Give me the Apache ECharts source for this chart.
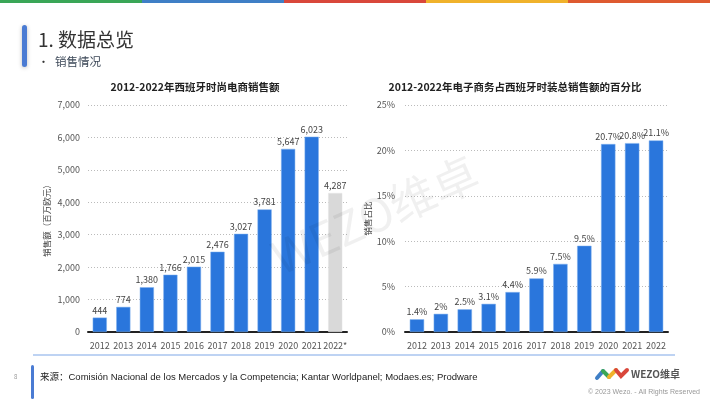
<!DOCTYPE html>
<html>
<head>
<meta charset="utf-8">
<script src="https://cdn.jsdelivr.net/npm/echarts@6/dist/echarts.min.js"></script>
<style>
html, body { margin: 0; padding: 0; background: #fff; }
#main { width: 710px; height: 399px; }
</style>
</head>
<body>
<div id="main"></div>
<script>
// 西班牙时尚电商销售额 + 电商占比
var years1 = ['2012', '2013', '2014', '2015', '2016', '2017', '2018', '2019', '2020', '2021', '2022*'];
var sales = [444, 774, 1380, 1766, 2015, 2476, 3027, 3781, 5647, 6023, 4287];
var years2 = ['2012', '2013', '2014', '2015', '2016', '2017', '2018', '2019', '2020', '2021', '2022'];
var share = [1.4, 2, 2.5, 3.1, 4.4, 5.9, 7.5, 9.5, 20.7, 20.8, 21.1];

var FONT = '"Noto Sans CJK SC", "Noto Sans", sans-serif';
var BLUE = '#2a76dc';

var myChart = echarts.init(document.getElementById('main'));

function fmt(v) {
    return String(v).replace(/\B(?=(\d{3})+(?!\d))/g, ',');
}

var salesData = sales.map(function (v, i) {
    if (i == sales.length - 1) {
        return { value: v, itemStyle: { color: '#d9d9d9', borderColor: '#e6e6e6' } };
    }
    return v;
});

var axisLabel = { color: '#555', fontSize: 9, fontFamily: FONT };
var barLabel = { show: true, position: 'top', distance: 3, color: '#444', fontSize: 9, fontFamily: FONT };

var stripColors = ['#3aa657', '#3f7fc6', '#d9473b', '#f0b22b', '#de5a30'];
var graphics = stripColors.map(function (c, i) {
    return { type: 'rect', shape: { x: i * 142, y: 0, width: 142, height: 3 }, style: { fill: c } };
});

graphics = graphics.concat([
    // header
    { type: 'rect', shape: { x: 22, y: 25, width: 5, height: 42, r: 2.5 },
      style: { fill: '#4a7bd3', shadowBlur: 4, shadowColor: 'rgba(0,0,0,0.25)', shadowOffsetY: 1 } },
    { type: 'text', x: 38, y: 40, style: { text: '1. 数据总览', fill: '#333', fontSize: 19, fontFamily: FONT, verticalAlign: 'middle' } },
    { type: 'text', x: 38, y: 62, style: { text: '•', fill: '#333', fontSize: 11, fontFamily: FONT, verticalAlign: 'middle' } },
    { type: 'text', x: 55, y: 62, style: { text: '销售情况', fill: '#3a4656', fontSize: 11.5, fontFamily: FONT, verticalAlign: 'middle' } },
    // chart titles
    { type: 'text', x: 195, y: 87, style: { text: '2012-2022年西班牙时尚电商销售额', fill: '#222', fontSize: 10.5, fontWeight: 'bold', fontFamily: FONT, align: 'center', verticalAlign: 'middle' } },
    { type: 'text', x: 515, y: 87, style: { text: '2012-2022年电子商务占西班牙时装总销售额的百分比', fill: '#222', fontSize: 10.5, fontWeight: 'bold', fontFamily: FONT, align: 'center', verticalAlign: 'middle' } },
    // watermark
    { type: 'text', x: 375, y: 215, rotation: Math.PI / 7.5, z: 100,
      style: { text: 'WEZO维卓', fill: 'rgba(0,0,0,0.06)', fontSize: 46, fontFamily: FONT, align: 'center', verticalAlign: 'middle' } },
    // footer
    { type: 'line', shape: { x1: 33, y1: 355, x2: 675, y2: 355 }, style: { stroke: '#a9c4ef', lineWidth: 1.5 } },
    { type: 'rect', shape: { x: 31, y: 365, width: 3, height: 34, r: 1.5 }, style: { fill: '#4a7bd3' } },
    { type: 'text', x: 14, y: 377, style: { text: '8', fill: '#999', fontSize: 6, fontFamily: FONT, verticalAlign: 'middle' } },
    { type: 'text', x: 40, y: 377, style: { text: '来源：Comisión Nacional de los Mercados y la Competencia; Kantar Worldpanel; Modaes.es; Prodware', fill: '#222', fontSize: 9.5, fontFamily: '"Liberation Sans", "Noto Sans CJK SC", sans-serif', verticalAlign: 'middle' } },
    // logo swoosh
    { type: 'polyline', shape: { points: [[597, 378], [603, 371]] }, style: { stroke: '#3f7fc6', lineWidth: 4, lineCap: 'round' } },
    { type: 'polyline', shape: { points: [[603, 371], [609, 377]] }, style: { stroke: '#3aa657', lineWidth: 4, lineCap: 'round' } },
    { type: 'polyline', shape: { points: [[609, 377], [616, 370]] }, style: { stroke: '#f0b22b', lineWidth: 4, lineCap: 'round' } },
    { type: 'polyline', shape: { points: [[616, 370], [621, 376], [627, 370]] }, style: { stroke: '#d9473b', lineWidth: 4, lineCap: 'round' } },
    { type: 'text', x: 631, y: 374, style: { text: 'WEZO维卓', fill: '#555', fontSize: 10, fontWeight: 'bold', fontFamily: FONT, verticalAlign: 'middle' } },
    { type: 'text', x: 700, y: 392, style: { text: '© 2023 Wezo. - All Rights Reserved', fill: '#999', fontSize: 7, fontFamily: '"Liberation Sans", sans-serif', align: 'right', verticalAlign: 'middle' } }
]);

var option = {
    backgroundColor: '#fff',
    animation: false,
    graphic: graphics,
    grid: [
        { left: 88, right: 363, top: 105, bottom: 67 },
        { left: 405, right: 42, top: 105, bottom: 67 }
    ],
    xAxis: [
        {
            type: 'category', gridIndex: 0, data: years1,
            axisTick: { show: false },
            axisLine: { lineStyle: { color: '#222', width: 2 } },
            axisLabel: { color: '#555', fontSize: 9, fontFamily: FONT, margin: 9, interval: 0 }
        },
        {
            type: 'category', gridIndex: 1, data: years2,
            axisTick: { show: false },
            axisLine: { lineStyle: { color: '#222', width: 2 } },
            axisLabel: { color: '#555', fontSize: 9, fontFamily: FONT, margin: 9, interval: 0 }
        }
    ],
    yAxis: [
        {
            type: 'value', gridIndex: 0, min: 0, max: 7000, interval: 1000,
            name: '销售额（百万欧元）', nameLocation: 'middle', nameGap: 37,
            nameTextStyle: { color: '#444', fontSize: 8.5, fontFamily: FONT },
            axisLabel: { color: '#555', fontSize: 9, fontFamily: FONT, margin: 8, formatter: function (v) { return fmt(v); } },
            splitLine: { lineStyle: { color: '#bbb', type: [1, 2] } }
        },
        {
            type: 'value', gridIndex: 1, min: 0, max: 25, interval: 5,
            name: '销售占比', nameLocation: 'middle', nameGap: 33,
            nameTextStyle: { color: '#444', fontSize: 8.5, fontFamily: FONT },
            axisLabel: { color: '#555', fontSize: 9, fontFamily: FONT, margin: 10, formatter: '{value}%' },
            splitLine: { lineStyle: { color: '#bbb', type: [1, 2] } }
        }
    ],
    series: [
        {
            name: '销售额', type: 'bar', xAxisIndex: 0, yAxisIndex: 0,
            data: salesData, barWidth: '60%',
            itemStyle: { color: BLUE, borderColor: '#7fb0ee', borderWidth: 0.5 },
            label: Object.assign({}, barLabel, { formatter: function (p) { return fmt(p.value); } })
        },
        {
            name: '销售占比', type: 'bar', xAxisIndex: 1, yAxisIndex: 1,
            data: share, barWidth: '60%',
            itemStyle: { color: BLUE, borderColor: '#7fb0ee', borderWidth: 0.5 },
            label: Object.assign({}, barLabel, { formatter: '{c}%' })
        }
    ]
};

myChart.setOption(option);
</script>
</body>
</html>
